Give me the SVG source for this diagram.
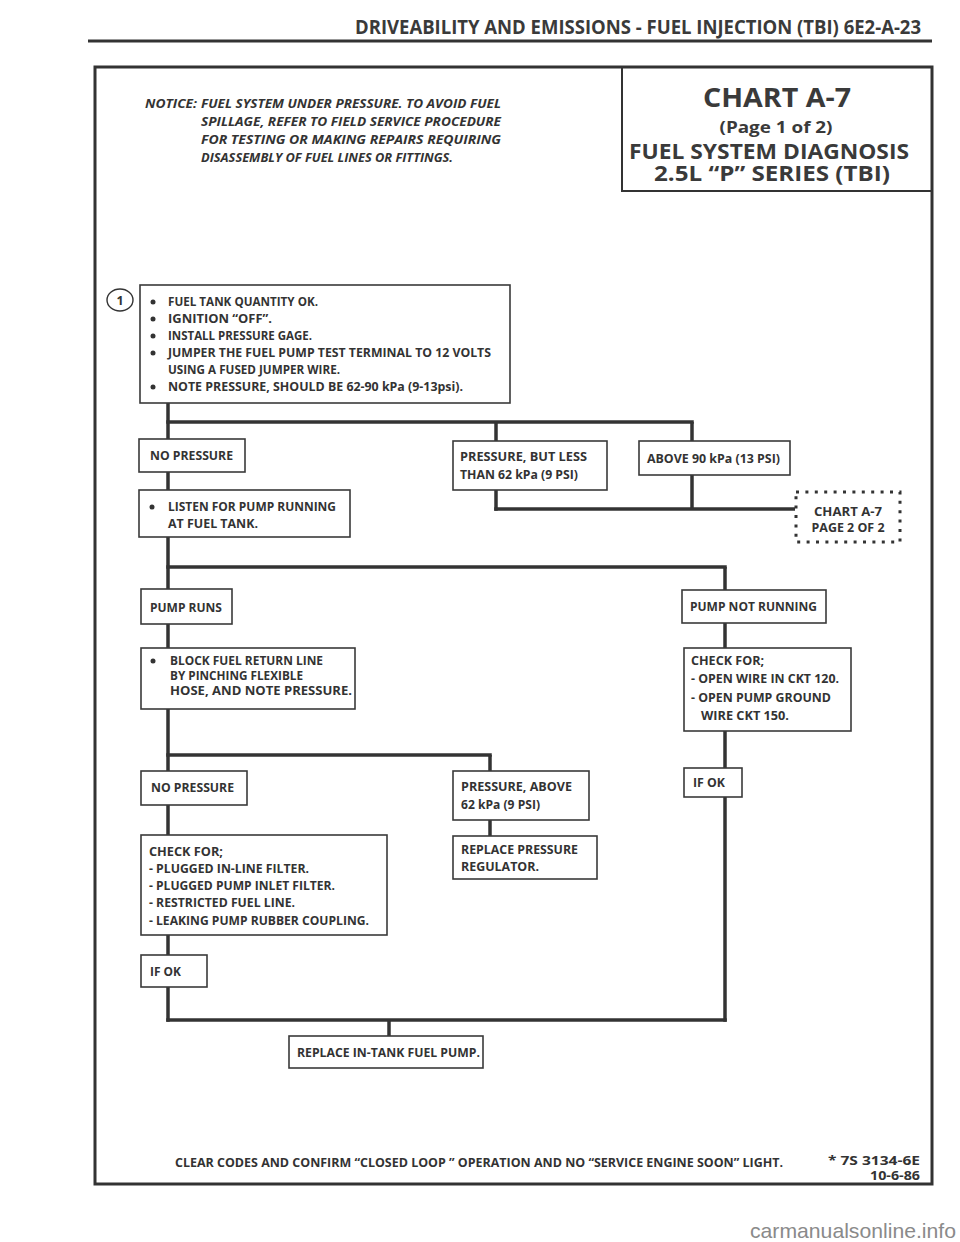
<svg xmlns="http://www.w3.org/2000/svg" width="960" height="1242" viewBox="0 0 960 1242">
<style>
.b{fill:#fff;stroke:#3a3a3a;stroke-width:1.6}
.t{font-family:"Open Sans","Liberation Sans",sans-serif;font-weight:700;font-size:12.5px;fill:#333}
.n{font-family:"Open Sans","Liberation Sans",sans-serif;font-weight:700;font-style:italic;font-size:12px;fill:#333}
.h{font-family:"Open Sans","Liberation Sans",sans-serif;font-weight:700;fill:#3a3a3a}
.c{stroke:#333;stroke-width:3.5;fill:none}
.dot{fill:#333}
</style>
<rect width="960" height="1242" fill="#fff"/>
<!-- page header -->
<text class="h" x="355" y="34" font-size="19" textLength="566" lengthAdjust="spacingAndGlyphs">DRIVEABILITY AND EMISSIONS - FUEL INJECTION (TBI)  6E2-A-23</text>
<line x1="88" y1="41" x2="932" y2="41" stroke="#333" stroke-width="3"/>
<!-- frame -->
<rect x="95" y="67" width="837" height="1117" fill="none" stroke="#333" stroke-width="3"/>
<g id="title">
<rect x="622" y="67" width="310" height="124" fill="none" stroke="#333" stroke-width="2"/>
<text class="h" x="777" y="107" font-size="27" text-anchor="middle" textLength="148" lengthAdjust="spacingAndGlyphs">CHART A-7</text>
<text class="h" x="776" y="133" font-size="16" text-anchor="middle" textLength="113" lengthAdjust="spacingAndGlyphs">(Page 1 of 2)</text>
<text class="h" x="769" y="159" font-size="21" text-anchor="middle" textLength="280" lengthAdjust="spacingAndGlyphs">FUEL SYSTEM DIAGNOSIS</text>
<text class="h" x="772" y="181" font-size="21" text-anchor="middle" textLength="236" lengthAdjust="spacingAndGlyphs">2.5L “P” SERIES  (TBI)</text>
</g>
<g id="notice">
<text class="n" x="145" y="108" textLength="52" lengthAdjust="spacingAndGlyphs">NOTICE:</text>
<text class="n" x="201" y="108" textLength="300" lengthAdjust="spacingAndGlyphs">FUEL SYSTEM UNDER PRESSURE.  TO AVOID FUEL</text>
<text class="n" x="201" y="126" textLength="300" lengthAdjust="spacingAndGlyphs">SPILLAGE, REFER TO FIELD SERVICE PROCEDURE</text>
<text class="n" x="201" y="144" textLength="300" lengthAdjust="spacingAndGlyphs">FOR TESTING OR MAKING REPAIRS REQUIRING</text>
<text class="n" x="201" y="162" textLength="252" lengthAdjust="spacingAndGlyphs">DISASSEMBLY OF FUEL LINES OR FITTINGS.</text>
</g>
<!-- connectors -->
<g id="connectors" class="c">
<line x1="168" y1="403" x2="168" y2="1021.75"/>
<line x1="166.25" y1="422" x2="693.75" y2="422"/>
<line x1="496" y1="422" x2="496" y2="441"/>
<line x1="692" y1="422" x2="692" y2="441"/>
<line x1="496" y1="490" x2="496" y2="510.75"/>
<line x1="692" y1="475" x2="692" y2="509"/>
<line x1="494.25" y1="509" x2="795" y2="509"/>
<line x1="166.25" y1="567" x2="726.75" y2="567"/>
<line x1="725" y1="567" x2="725" y2="1021.75"/>
<line x1="166.25" y1="755" x2="491.75" y2="755"/>
<line x1="490" y1="755" x2="490" y2="836"/>
<line x1="166.25" y1="1020" x2="726.75" y2="1020"/>
<line x1="389" y1="1020" x2="389" y2="1036"/>
</g>
<g id="n1">
<ellipse cx="120" cy="300" rx="13" ry="11" fill="#fff" stroke="#333" stroke-width="1.4"/>
<text class="t" x="120" y="304.5" font-size="11" text-anchor="middle">1</text>
<rect class="b" x="140" y="285" width="370" height="118"/>
<circle class="dot" cx="153" cy="302" r="2.5"/><text class="t" x="168" y="306" textLength="150" lengthAdjust="spacingAndGlyphs">FUEL TANK QUANTITY OK.</text>
<circle class="dot" cx="153" cy="319" r="2.5"/><text class="t" x="168" y="323" textLength="104" lengthAdjust="spacingAndGlyphs">IGNITION “OFF”.</text>
<circle class="dot" cx="153" cy="336" r="2.5"/><text class="t" x="168" y="340" textLength="144" lengthAdjust="spacingAndGlyphs">INSTALL PRESSURE GAGE.</text>
<circle class="dot" cx="153" cy="353" r="2.5"/><text class="t" x="168" y="357" textLength="323" lengthAdjust="spacingAndGlyphs">JUMPER THE FUEL PUMP TEST TERMINAL TO 12 VOLTS</text>
<text class="t" x="168" y="374" textLength="172" lengthAdjust="spacingAndGlyphs">USING A FUSED JUMPER WIRE.</text>
<circle class="dot" cx="153" cy="387" r="2.5"/><text class="t" x="168" y="391" textLength="295" lengthAdjust="spacingAndGlyphs">NOTE PRESSURE, SHOULD BE 62-90 kPa  (9-13psi).</text>
</g>
<g id="n2">
<rect class="b" x="139" y="439" width="106" height="33"/>
<text class="t" x="150" y="460" textLength="83" lengthAdjust="spacingAndGlyphs">NO PRESSURE</text>
</g>
<g id="n3">
<rect class="b" x="453" y="441" width="154" height="49"/>
<text class="t" x="460" y="461" textLength="127" lengthAdjust="spacingAndGlyphs">PRESSURE, BUT  LESS</text>
<text class="t" x="460" y="479" textLength="118" lengthAdjust="spacingAndGlyphs">THAN 62 kPa (9 PSI)</text>
</g>
<g id="n4">
<rect class="b" x="639" y="441" width="151" height="34"/>
<text class="t" x="647" y="463" textLength="133" lengthAdjust="spacingAndGlyphs">ABOVE 90 kPa (13 PSI)</text>
</g>
<g id="n5">
<rect x="796" y="492" width="104" height="50" fill="#fff" stroke="#333" stroke-width="3" stroke-dasharray="3 6.4"/>
<text class="t" x="848" y="516" text-anchor="middle" textLength="68" lengthAdjust="spacingAndGlyphs">CHART  A-7</text>
<text class="t" x="848" y="532" text-anchor="middle" textLength="73" lengthAdjust="spacingAndGlyphs">PAGE 2 OF 2</text>
</g>
<g id="n6">
<rect class="b" x="139" y="490" width="211" height="47"/>
<circle class="dot" cx="152" cy="507" r="2.5"/>
<text class="t" x="168" y="511" textLength="168" lengthAdjust="spacingAndGlyphs">LISTEN FOR PUMP RUNNING</text>
<text class="t" x="168" y="528" textLength="90" lengthAdjust="spacingAndGlyphs">AT FUEL TANK.</text>
</g>
<g id="n7">
<rect class="b" x="141" y="589" width="91" height="35"/>
<text class="t" x="150" y="612" textLength="72" lengthAdjust="spacingAndGlyphs">PUMP RUNS</text>
</g>
<g id="n8">
<rect class="b" x="682" y="590" width="144" height="33"/>
<text class="t" x="690" y="611" textLength="127" lengthAdjust="spacingAndGlyphs">PUMP NOT RUNNING</text>
</g>
<g id="n9">
<rect class="b" x="141" y="648" width="214" height="61"/>
<circle class="dot" cx="153" cy="661" r="2.5"/>
<text class="t" x="170" y="665" textLength="153" lengthAdjust="spacingAndGlyphs">BLOCK FUEL RETURN LINE</text>
<text class="t" x="170" y="680" textLength="133" lengthAdjust="spacingAndGlyphs">BY PINCHING FLEXIBLE</text>
<text class="t" x="170" y="695" textLength="182" lengthAdjust="spacingAndGlyphs">HOSE, AND NOTE PRESSURE.</text>
</g>
<g id="n10">
<rect class="b" x="684" y="648" width="167" height="83"/>
<text class="t" x="691" y="665" textLength="73" lengthAdjust="spacingAndGlyphs">CHECK FOR;</text>
<text class="t" x="691" y="683" textLength="148" lengthAdjust="spacingAndGlyphs">- OPEN WIRE IN CKT 120.</text>
<text class="t" x="691" y="702" textLength="140" lengthAdjust="spacingAndGlyphs">- OPEN PUMP GROUND</text>
<text class="t" x="701" y="720" textLength="88" lengthAdjust="spacingAndGlyphs">WIRE CKT 150.</text>
</g>
<g id="n11">
<rect class="b" x="141" y="771" width="106" height="34"/>
<text class="t" x="151" y="792" textLength="83" lengthAdjust="spacingAndGlyphs">NO PRESSURE</text>
</g>
<g id="n12">
<rect class="b" x="453" y="771" width="136" height="49"/>
<text class="t" x="461" y="791" textLength="111" lengthAdjust="spacingAndGlyphs">PRESSURE, ABOVE</text>
<text class="t" x="461" y="809" textLength="79" lengthAdjust="spacingAndGlyphs">62 kPa (9 PSI)</text>
</g>
<g id="n13">
<rect class="b" x="684" y="768" width="58" height="29"/>
<text class="t" x="693" y="787" textLength="32" lengthAdjust="spacingAndGlyphs">IF OK</text>
</g>
<g id="n14">
<rect class="b" x="453" y="836" width="144" height="43"/>
<text class="t" x="461" y="854" textLength="117" lengthAdjust="spacingAndGlyphs">REPLACE PRESSURE</text>
<text class="t" x="461" y="871" textLength="78" lengthAdjust="spacingAndGlyphs">REGULATOR.</text>
</g>
<g id="n15">
<rect class="b" x="141" y="835" width="246" height="100"/>
<text class="t" x="149" y="856" textLength="74" lengthAdjust="spacingAndGlyphs">CHECK FOR;</text>
<text class="t" x="149" y="873" textLength="160" lengthAdjust="spacingAndGlyphs">-  PLUGGED IN-LINE FILTER.</text>
<text class="t" x="149" y="890" textLength="186" lengthAdjust="spacingAndGlyphs">- PLUGGED PUMP INLET FILTER.</text>
<text class="t" x="149" y="907" textLength="146" lengthAdjust="spacingAndGlyphs">- RESTRICTED FUEL LINE.</text>
<text class="t" x="149" y="925" textLength="220" lengthAdjust="spacingAndGlyphs">- LEAKING PUMP RUBBER COUPLING.</text>
</g>
<g id="n16">
<rect class="b" x="141" y="955" width="66" height="32"/>
<text class="t" x="150" y="976" textLength="31" lengthAdjust="spacingAndGlyphs">IF OK</text>
</g>
<g id="n17">
<rect class="b" x="289" y="1036" width="194" height="32"/>
<text class="t" x="297" y="1057" textLength="183" lengthAdjust="spacingAndGlyphs">REPLACE IN-TANK FUEL PUMP.</text>
</g>
<g id="footer">
<text class="t" x="175" y="1167" font-size="11.5" textLength="608" lengthAdjust="spacingAndGlyphs">CLEAR CODES AND CONFIRM “CLOSED LOOP ” OPERATION AND NO “SERVICE ENGINE SOON” LIGHT.</text>
<text class="t" x="920" y="1165" font-size="10.5" text-anchor="end" textLength="92" lengthAdjust="spacingAndGlyphs">* 7S 3134-6E</text>
<text class="t" x="920" y="1180" font-size="10.5" text-anchor="end" textLength="50" lengthAdjust="spacingAndGlyphs">10-6-86</text>
</g>
<text x="956" y="1238" font-family="Liberation Sans, Arial, sans-serif" font-size="21" fill="#8a8a8a" text-anchor="end" textLength="206" lengthAdjust="spacingAndGlyphs">carmanualsonline.info</text>
</svg>
